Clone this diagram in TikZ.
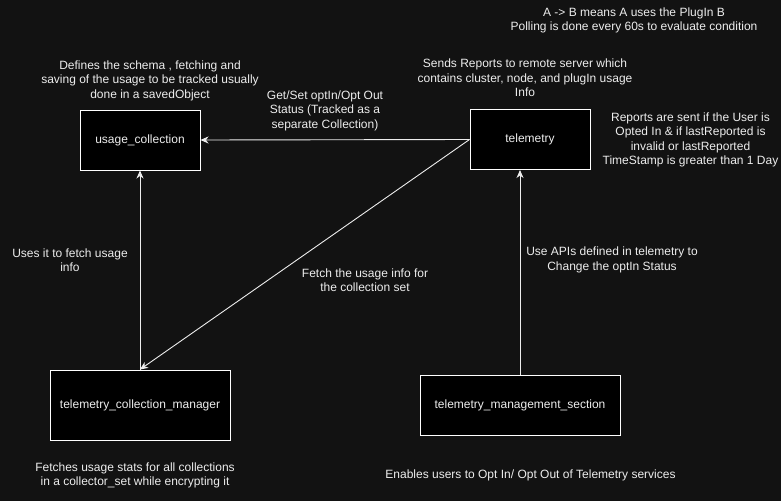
\documentclass[tikz,border=0pt]{standalone}
\usepackage{fontspec}
\setmainfont{Liberation Sans}
\usetikzlibrary{arrows.meta}
\definecolor{canvas}{HTML}{121212}
\definecolor{ink}{HTML}{EDEDED}
\begin{document}
\begin{tikzpicture}[x=1pt, y=-1pt,
  every node/.style={text=ink, font=\fontsize{12}{14.5}\selectfont, align=center, inner sep=0pt},
  box/.style={draw=white, fill=black, line width=1pt},
  link/.style={draw=ink, line width=0.9pt, -{Stealth[length=8pt, width=7pt, inset=2.5pt]}}
]
\fill[canvas] (0,0) rectangle (781,501);
\node[box, minimum width=120pt, minimum height=60pt] (usage) at (140,140) {usage\_collection};
\node[box, minimum width=120pt, minimum height=60pt] (telemetry) at (530,139.5) {telemetry};
\node[box, minimum width=180pt, minimum height=70pt] (manager) at (140,405) {telemetry\_collection\_manager};
\node[box, minimum width=200pt, minimum height=60pt] (mgmt) at (520,405) {telemetry\_management\_section};
\node (legend) at (634,20.5) {A -> B means A uses the PlugIn B\\Polling is done every 60s to evaluate condition};
\node (usagenote) at (150,80.5) {Defines the schema , fetching and\\saving of the usage to be tracked usually\\done in a savedObject};
\node (statusnote) at (325,110.5) {Get/Set optIn/Opt Out\\Status (Tracked as a\\separate Collection)};
\node (reportnote) at (525,78) {Sends Reports to remote server which\\contains cluster, node, and plugIn usage\\Info};
\node (condnote) at (690.5,139.7) {Reports are sent if the User is\\Opted In \& if lastReported is\\invalid or lastReported\\TimeStamp is greater than 1 Day};
\node (fetchnote) at (70,260) {Uses it to fetch usage\\info};
\node (setnote) at (365,280) {Fetch the usage info for\\the collection set};
\node (apinote) at (612,260) {Use APIs defined in telemetry to\\Change the optIn Status};
\node (managernote) at (135,475.3) {Fetches usage stats for all collections\\in a collector\_set while encrypting it};
\node (mgmtnote) at (530.5,475) {Enables users to Opt In/ Opt Out of Telemetry services};
\draw[link] (telemetry.west) -- (usage.east);
\draw[link] (manager.north) -- (usage.south);
\draw[link] (telemetry.west) -- (manager.north);
\draw[link] (mgmt.north) -- (mgmt.north |- telemetry.south);
\end{tikzpicture}
\end{document}
